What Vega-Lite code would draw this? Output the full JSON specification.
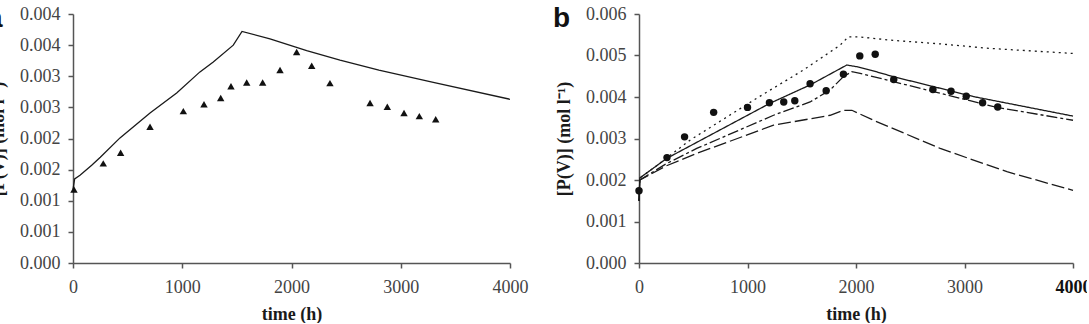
{
  "$schema": "https://vega.github.io/schema/vega-lite/v6.json",
  "background": "white",
  "padding": {"left": -13, "top": 5, "right": -4, "bottom": 0},
  "bounds": "flush",
  "spacing": 129,
  "config": {
    "view": {"stroke": null},
    "font": "Liberation Serif",
    "axis": {
      "grid": false,
      "domainColor": "#555",
      "domainWidth": 1.5,
      "tickColor": "#555",
      "tickWidth": 1.5,
      "tickSize": 5,
      "labelFont": "Liberation Serif",
      "labelFontSize": 18,
      "labelColor": "#444",
      "labelOverlap": false,
      "labelFlush": false,
      "titleFont": "Liberation Serif",
      "titleFontSize": 18,
      "titleFontWeight": "bold",
      "titleColor": "#1a1a1a"
    },
    "axisX": {"labelPadding": 10, "titlePadding": 9},
    "axisY": {"labelPadding": 8, "titlePadding": 12},
    "title": {
      "anchor": "start",
      "frame": "group",
      "orient": "top",
      "baseline": "alphabetic",
      "offset": 0,
      "dx": -86,
      "dy": 32,
      "font": "Liberation Sans",
      "fontSize": 28,
      "fontWeight": "bold",
      "color": "#111"
    }
  },
  "datasets": {
    "leftModel": [
      {"t": 0, "v": 0.00118}, {"t": 15, "v": 0.00135}, {"t": 64, "v": 0.00141},
      {"t": 171, "v": 0.00157}, {"t": 250, "v": 0.00170}, {"t": 430, "v": 0.00201},
      {"t": 705, "v": 0.00241}, {"t": 949, "v": 0.00273}, {"t": 1162, "v": 0.00307},
      {"t": 1284, "v": 0.00323}, {"t": 1467, "v": 0.00350}, {"t": 1547, "v": 0.00372},
      {"t": 1803, "v": 0.00360}, {"t": 2139, "v": 0.00341}, {"t": 2444, "v": 0.00326},
      {"t": 2800, "v": 0.00310}, {"t": 3298, "v": 0.00290}, {"t": 4000, "v": 0.00263}
    ],
    "leftMeasured": [
      {"t": 9, "v": 0.00118}, {"t": 277, "v": 0.00160}, {"t": 436, "v": 0.00177},
      {"t": 705, "v": 0.00219}, {"t": 1010, "v": 0.00244}, {"t": 1199, "v": 0.00255},
      {"t": 1352, "v": 0.00265}, {"t": 1446, "v": 0.00284}, {"t": 1590, "v": 0.00290},
      {"t": 1736, "v": 0.00290}, {"t": 1895, "v": 0.00310}, {"t": 2047, "v": 0.00339},
      {"t": 2185, "v": 0.00317}, {"t": 2352, "v": 0.00289}, {"t": 2719, "v": 0.00257},
      {"t": 2877, "v": 0.00251}, {"t": 3030, "v": 0.00241}, {"t": 3170, "v": 0.00236},
      {"t": 3320, "v": 0.00231}
    ],
    "rightModel": [
      {"run": "model 1", "t": 0, "v": 0.00150}, {"run": "model 1", "t": 8, "v": 0.00205},
      {"run": "model 1", "t": 100, "v": 0.00222}, {"run": "model 1", "t": 250, "v": 0.00252},
      {"run": "model 1", "t": 470, "v": 0.00296}, {"run": "model 1", "t": 1085, "v": 0.00397},
      {"run": "model 1", "t": 1515, "v": 0.00465}, {"run": "model 1", "t": 1854, "v": 0.00525},
      {"run": "model 1", "t": 1930, "v": 0.00545}, {"run": "model 1", "t": 2023, "v": 0.00545},
      {"run": "model 1", "t": 2315, "v": 0.00537}, {"run": "model 1", "t": 2776, "v": 0.00528},
      {"run": "model 1", "t": 3237, "v": 0.00517}, {"run": "model 1", "t": 4000, "v": 0.00505},

      {"run": "model 2", "t": 0, "v": 0.00150}, {"run": "model 2", "t": 8, "v": 0.00205},
      {"run": "model 2", "t": 255, "v": 0.00252}, {"run": "model 2", "t": 685, "v": 0.00312},
      {"run": "model 2", "t": 1208, "v": 0.00385}, {"run": "model 2", "t": 1577, "v": 0.00429},
      {"run": "model 2", "t": 1915, "v": 0.00477}, {"run": "model 2", "t": 2008, "v": 0.00473},
      {"run": "model 2", "t": 2130, "v": 0.00465}, {"run": "model 2", "t": 2345, "v": 0.00449},
      {"run": "model 2", "t": 3083, "v": 0.00401}, {"run": "model 2", "t": 4000, "v": 0.00354},

      {"run": "model 3", "t": 0, "v": 0.00150}, {"run": "model 3", "t": 8, "v": 0.00200},
      {"run": "model 3", "t": 250, "v": 0.00239}, {"run": "model 3", "t": 532, "v": 0.00276},
      {"run": "model 3", "t": 1240, "v": 0.00356}, {"run": "model 3", "t": 1577, "v": 0.00388},
      {"run": "model 3", "t": 1762, "v": 0.00417}, {"run": "model 3", "t": 1884, "v": 0.00449},
      {"run": "model 3", "t": 1962, "v": 0.00461}, {"run": "model 3", "t": 2038, "v": 0.00457},
      {"run": "model 3", "t": 2714, "v": 0.00413}, {"run": "model 3", "t": 3298, "v": 0.00375},
      {"run": "model 3", "t": 4000, "v": 0.00344},

      {"run": "model 4", "t": 0, "v": 0.00150}, {"run": "model 4", "t": 8, "v": 0.00200},
      {"run": "model 4", "t": 250, "v": 0.00234}, {"run": "model 4", "t": 532, "v": 0.00264},
      {"run": "model 4", "t": 1240, "v": 0.00332}, {"run": "model 4", "t": 1762, "v": 0.00356},
      {"run": "model 4", "t": 1884, "v": 0.00368}, {"run": "model 4", "t": 1962, "v": 0.00368},
      {"run": "model 4", "t": 2161, "v": 0.00344}, {"run": "model 4", "t": 2776, "v": 0.00276},
      {"run": "model 4", "t": 3391, "v": 0.00220}, {"run": "model 4", "t": 4000, "v": 0.00175}
    ],
    "rightMeasured": [
      {"t": 0, "v": 0.00174}, {"t": 258, "v": 0.00254}, {"t": 420, "v": 0.00304},
      {"t": 688, "v": 0.00363}, {"t": 1000, "v": 0.00375}, {"t": 1202, "v": 0.00386},
      {"t": 1334, "v": 0.00388}, {"t": 1436, "v": 0.00391}, {"t": 1577, "v": 0.00432},
      {"t": 1725, "v": 0.00415}, {"t": 1884, "v": 0.00455}, {"t": 2035, "v": 0.00499},
      {"t": 2177, "v": 0.00503}, {"t": 2348, "v": 0.00442}, {"t": 2709, "v": 0.00418},
      {"t": 2876, "v": 0.00414}, {"t": 3016, "v": 0.00402}, {"t": 3167, "v": 0.00386},
      {"t": 3306, "v": 0.00376}
    ]
  },
  "hconcat": [
    {
      "title": {"text": "a"},
      "width": 437,
      "height": 249,
      "encoding": {
        "x": {
          "field": "t", "type": "quantitative",
          "scale": {"domain": [0, 4000], "nice": false},
          "axis": {
            "title": "time (h)",
            "values": [0, 1000, 2000, 3000, 4000],
            "format": "d"
          }
        },
        "y": {
          "field": "v", "type": "quantitative",
          "scale": {"domain": [0, 0.004], "nice": false},
          "axis": {
            "title": "[P(V)] (mol l⁻¹)",
            "values": [0, 0.0005, 0.001, 0.0015, 0.002, 0.0025, 0.003, 0.0035, 0.004],
            "labelExpr": "format(datum.value + 0.0000001, '.3f')"
          }
        }
      },
      "layer": [
        {
          "data": {"name": "leftModel"},
          "mark": {"type": "line", "color": "#1a1a1a", "strokeWidth": 1.3}
        },
        {
          "data": {"name": "leftMeasured"},
          "mark": {"type": "point", "shape": "triangle-up", "filled": true, "color": "#111", "opacity": 1, "size": 55}
        }
      ]
    },
    {
      "title": {"text": "b"},
      "width": 434,
      "height": 249,
      "encoding": {
        "x": {
          "field": "t", "type": "quantitative",
          "scale": {"domain": [0, 4000], "nice": false},
          "axis": {
            "title": "time (h)",
            "values": [0, 1000, 2000, 3000, 4000],
            "format": "d",
            "labelFontWeight": {"condition": {"test": "datum.value == 4000", "value": "bold"}, "value": "normal"},
            "labelColor": {"condition": {"test": "datum.value == 4000", "value": "#111"}, "value": "#444"}
          }
        },
        "y": {
          "field": "v", "type": "quantitative",
          "scale": {"domain": [0, 0.006], "nice": false},
          "axis": {
            "title": "[P(V)] (mol l⁻¹)",
            "values": [0, 0.001, 0.002, 0.003, 0.004, 0.005, 0.006],
            "format": ".3f"
          }
        }
      },
      "layer": [
        {
          "data": {"name": "rightModel"},
          "mark": {"type": "line", "color": "#1a1a1a", "strokeWidth": 1.3},
          "encoding": {
            "strokeDash": {
              "field": "run", "type": "nominal",
              "scale": {
                "domain": ["model 1", "model 2", "model 3", "model 4"],
                "range": [[2, 4], [1, 0], [11, 3, 3, 3], [13, 4]]
              },
              "legend": null
            }
          }
        },
        {
          "data": {"name": "rightMeasured"},
          "mark": {"type": "point", "shape": "circle", "filled": true, "color": "#111", "opacity": 1, "size": 55}
        }
      ]
    }
  ]
}
